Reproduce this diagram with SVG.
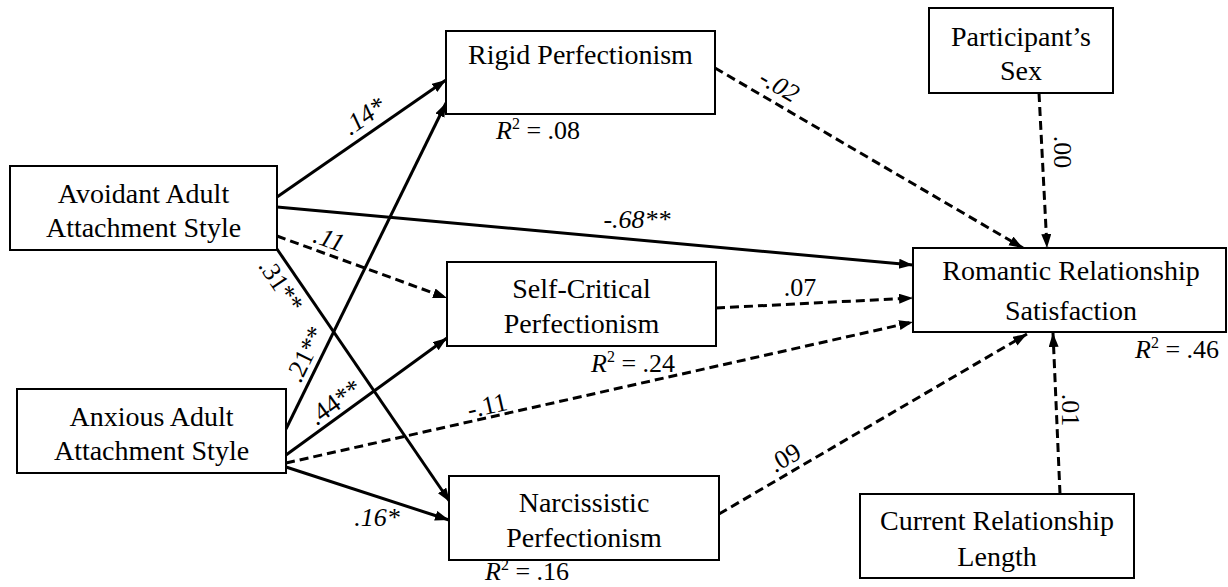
<svg xmlns="http://www.w3.org/2000/svg" width="1228" height="587" viewBox="0 0 1228 587">
<style>
.box{fill:#fff;stroke:#000;stroke-width:2}
.t{font-family:'Liberation Serif','Times New Roman',serif;font-size:28px;fill:#000;text-anchor:middle}
.lb{font-family:'Liberation Serif','Times New Roman',serif;font-size:26px;fill:#000;text-anchor:middle}
.it{font-style:italic}
.r2{font-family:'Liberation Serif','Times New Roman',serif;font-size:26px;fill:#000}
.s{fill:none;stroke:#000;stroke-width:3;marker-end:url(#ah)}
.d{fill:none;stroke:#000;stroke-width:3;stroke-dasharray:9 5;marker-end:url(#ah)}
</style>
<defs>
<marker id="ah" markerUnits="userSpaceOnUse" markerWidth="16" markerHeight="12" refX="14" refY="5" orient="auto">
<path d="M0,0 L14,5 L0,10 z" fill="#000"/>
</marker>
</defs>
<rect width="1228" height="587" fill="#fff"/>
<g id="connectors">
<line class="s" x1="277" y1="197" x2="446" y2="80"/>
<line class="s" x1="277" y1="207" x2="913" y2="265"/>
<line class="d" x1="277" y1="236" x2="447" y2="298"/>
<line class="s" x1="277" y1="249" x2="450" y2="502"/>
<line class="s" x1="286" y1="429" x2="446" y2="103"/>
<line class="s" x1="286" y1="455" x2="447" y2="338"/>
<line class="d" x1="286" y1="463" x2="913" y2="322"/>
<line class="s" x1="286" y1="467" x2="449" y2="520"/>
<line class="d" x1="715" y1="68" x2="1023" y2="248"/>
<line class="d" x1="1039" y1="93" x2="1047" y2="248"/>
<line class="d" x1="716" y1="308" x2="913" y2="298"/>
<line class="d" x1="719" y1="514" x2="1027" y2="334"/>
<line class="d" x1="1060" y1="494" x2="1053" y2="333"/>
<text class="lb it" transform="translate(369,123) rotate(-35)">.14*</text>
<text class="lb it" x="637" y="228">-.68**</text>
<text class="lb it" transform="translate(326,247) rotate(20)">.11</text>
<text class="lb" transform="translate(274,290) rotate(56)">.31**</text>
<text class="lb" transform="translate(313,358) rotate(-64)">.21**</text>
<text class="lb" transform="translate(340,409) rotate(-36)">.44**</text>
<text class="lb" transform="translate(489,414) rotate(-13)">-.11</text>
<text class="lb it" x="377" y="526">.16*</text>
<text class="lb it" transform="translate(775,93) rotate(30)">-.02</text>
<text class="lb" x="800" y="296">.07</text>
<text class="lb" transform="translate(789,465) rotate(-30)">.09</text>
<text class="lb" transform="translate(1054,152) rotate(90)">.00</text>
<text class="lb" transform="translate(1062,410) rotate(90)">.01</text>
</g>
<g id="avoidant">
<rect class="box" x="10" y="166" width="267" height="84"/>
<text class="t" x="143.5" y="203">Avoidant Adult</text>
<text class="t" x="143.5" y="237">Attachment Style</text>
</g>
<g id="anxious">
<rect class="box" x="17" y="389" width="269" height="84"/>
<text class="t" x="151.5" y="426">Anxious Adult</text>
<text class="t" x="151.5" y="460">Attachment Style</text>
</g>
<g id="rigid">
<rect class="box" x="446" y="31" width="269" height="83"/>
<text class="t" x="580.5" y="64">Rigid Perfectionism</text>
<text class="r2" x="496" y="139"><tspan font-style="italic">R</tspan><tspan font-size="16" dy="-10">2</tspan><tspan dy="10"> = .08</tspan></text>
</g>
<g id="selfcritical">
<rect class="box" x="447" y="262" width="269" height="84"/>
<text class="t" x="581.5" y="298">Self-Critical</text>
<text class="t" x="581.5" y="333">Perfectionism</text>
<text class="r2" x="591" y="372"><tspan font-style="italic">R</tspan><tspan font-size="16" dy="-10">2</tspan><tspan dy="10"> = .24</tspan></text>
</g>
<g id="narcissistic">
<rect class="box" x="449" y="476" width="270" height="84"/>
<text class="t" x="584" y="512">Narcissistic</text>
<text class="t" x="584" y="547">Perfectionism</text>
<text class="r2" x="485" y="580"><tspan font-style="italic">R</tspan><tspan font-size="16" dy="-10">2</tspan><tspan dy="10"> = .16</tspan></text>
</g>
<g id="romantic">
<rect class="box" x="913" y="248" width="313" height="84"/>
<text class="t" x="1071" y="280">Romantic Relationship</text>
<text class="t" x="1071" y="320">Satisfaction</text>
<text class="r2" x="1135" y="358"><tspan font-style="italic">R</tspan><tspan font-size="16" dy="-10">2</tspan><tspan dy="10"> = .46</tspan></text>
</g>
<g id="sex">
<rect class="box" x="929" y="8" width="184" height="85"/>
<text class="t" x="1021" y="46">Participant’s</text>
<text class="t" x="1021" y="80">Sex</text>
</g>
<g id="length">
<rect class="box" x="860" y="494" width="274" height="84"/>
<text class="t" x="997" y="530">Current Relationship</text>
<text class="t" x="997" y="566">Length</text>
</g>
</svg>
